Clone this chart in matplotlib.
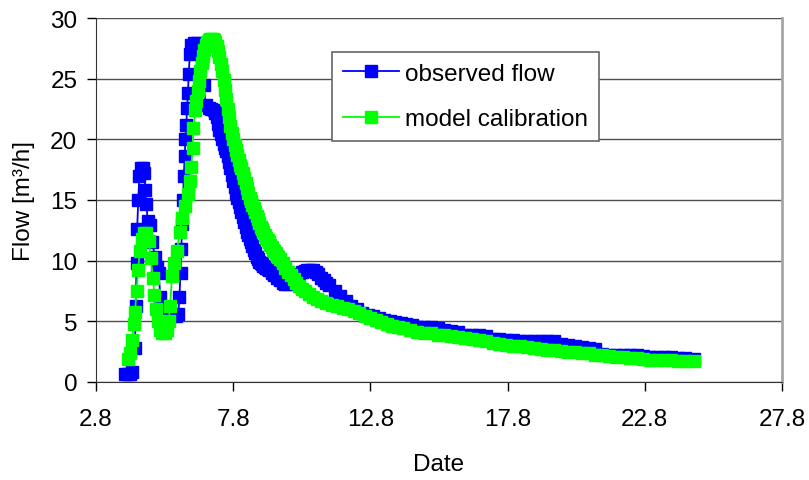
import matplotlib
matplotlib.use("Agg")
import matplotlib.pyplot as plt

plt.rcParams["font.family"] = ["Liberation Sans", "DejaVu Sans"]

# observed flow (blue)
obs_x = [3.85, 3.95, 4.05, 4.12, 4.22, 4.25, 4.28, 4.3, 4.34, 4.38, 4.43, 4.5, 4.56, 4.6,
         4.64, 4.68, 4.75, 4.85, 4.95, 5.02, 5.08, 5.15, 5.25, 5.4, 5.55, 5.7, 5.8, 5.84,
         5.88, 5.91, 5.94, 5.97, 6.0, 6.03, 6.06, 6.09, 6.12, 6.15, 6.18, 6.22, 6.28, 6.38,
         6.48, 6.58, 6.65, 6.72, 6.8, 6.9, 7.0, 7.1,
         7.15, 7.2, 7.25, 7.3, 7.35, 7.4, 7.45, 7.5, 7.55, 7.6, 7.65, 7.7, 7.75, 7.8, 7.85,
         7.9, 7.95, 8.0, 8.05, 8.1, 8.15, 8.2, 8.25, 8.3, 8.35, 8.4, 8.45, 8.5, 8.55, 8.6,
         8.65, 8.7, 8.75, 8.8, 8.85, 8.9, 8.95, 9.0, 9.05, 9.1, 9.2, 9.3, 9.4, 9.5, 9.6,
         9.7, 9.8, 9.9, 10.0, 10.1, 10.2, 10.3, 10.4, 10.5, 10.6, 10.7, 10.8, 10.9, 11.0,
         11.1, 11.2, 11.3, 11.5, 11.7, 11.9, 12.1, 12.3, 12.5, 12.7, 12.9,
         13.1, 13.3, 13.5, 13.7, 13.9, 14.1, 14.3, 14.5, 14.75, 15.0, 15.25, 15.5, 15.75,
         16.0, 16.25, 16.5, 16.75, 17.0, 17.25, 17.5, 17.75, 18.0, 18.25, 18.5, 18.75, 19.0,
         19.25, 19.5, 19.75, 20.0, 20.25, 20.5, 20.75, 21.0, 21.25, 21.5, 21.75, 22.0, 22.25,
         22.5, 22.75, 23.0, 23.25, 23.5, 23.75, 24.0, 24.25, 24.6]
obs_y = [0.7, 0.7, 0.7, 0.8, 2.8, 6.3, 9.8, 12.6, 15.0, 17.0, 17.6, 17.6, 17.2, 15.8,
         14.7, 13.3, 12.9, 11.5, 10.3, 9.5, 9.0, 7.0, 6.0, 5.6, 5.4, 5.4, 5.6, 7.0,
         9.0, 11.0, 13.0, 15.0, 17.0, 18.6, 20.0, 21.2, 22.6, 23.8, 25.4, 27.0, 27.8, 27.9,
         27.9, 27.5, 26.5, 24.5, 22.8, 22.6, 22.5, 22.4,
         22.2, 21.8, 21.3, 20.8, 20.4, 20.0, 19.6, 19.3, 19.0, 18.6, 18.1, 17.6, 17.1, 16.6, 16.1,
         15.6, 15.2, 14.8, 14.4, 14.0, 13.6, 13.2, 12.8, 12.4, 12.1, 11.8, 11.5, 11.2, 10.9, 10.6,
         10.3, 10.1, 9.9, 9.8, 9.7, 9.6, 9.5, 9.4, 9.3, 9.2, 9.0, 8.8, 8.6, 8.4, 8.2,
         8.1, 8.1, 8.3, 8.5, 8.7, 8.9, 9.05, 9.15, 9.2, 9.2, 9.2, 9.1, 8.9, 8.6,
         8.4, 8.2, 8.0, 7.5, 7.1, 6.7, 6.3, 6.0, 5.7, 5.5, 5.4,
         5.3, 5.1, 5.0, 4.95, 4.85, 4.8, 4.7, 4.5, 4.5, 4.5, 4.45, 4.3, 4.2,
         4.15, 3.9, 3.9, 3.85, 3.8, 3.55, 3.55, 3.5, 3.5, 3.4, 3.4, 3.4, 3.4,
         3.35, 3.35, 3.1, 3.05, 3.0, 2.85, 2.8, 2.7, 2.3, 2.25, 2.2, 2.2, 2.2,
         2.2, 2.15, 2.1, 2.05, 2.05, 2.05, 2.0, 1.95, 1.9]

# model calibration (green)
mod_x = [3.97, 4.05, 4.12, 4.17, 4.22, 4.28, 4.33, 4.4, 4.48, 4.56, 4.64, 4.72, 4.8, 4.87,
         4.93, 5.0, 5.07, 5.14, 5.22, 5.3, 5.38, 5.45, 5.5, 5.57, 5.65, 5.75, 5.86, 5.95,
         6.05, 6.15, 6.22, 6.27, 6.32, 6.35, 6.41, 6.45, 6.5, 6.55, 6.6, 6.65, 6.7, 6.75,
         6.8, 6.85, 6.9, 6.95, 7.0,
         7.05, 7.1, 7.15, 7.2, 7.25, 7.3, 7.35, 7.4, 7.45, 7.5, 7.55, 7.6, 7.65, 7.7, 7.75,
         7.8, 7.85, 7.9, 7.95, 8.0, 8.05, 8.1, 8.15, 8.2, 8.25, 8.3, 8.35, 8.4, 8.45, 8.5,
         8.55, 8.6, 8.65, 8.7, 8.75, 8.8, 8.85, 8.9, 8.95, 9.0, 9.05, 9.1, 9.15, 9.2, 9.25,
         9.3, 9.35, 9.4, 9.45, 9.5, 9.6, 9.7, 9.8, 9.9, 10.0, 10.1, 10.2, 10.3, 10.4, 10.55,
         10.7, 10.85, 11.0, 11.2, 11.4, 11.6, 11.8, 12.0, 12.2, 12.4, 12.6, 12.8, 13.0, 13.2,
         13.4, 13.6, 13.8, 14.0, 14.25, 14.5, 14.75, 15.0, 15.25, 15.5, 15.75, 16.0, 16.25,
         16.5, 16.75, 17.0, 17.25, 17.5, 17.75, 18.0, 18.25, 18.5, 18.75, 19.0, 19.25, 19.5,
         19.75, 20.0, 20.25, 20.5, 20.75, 21.0, 21.25, 21.5, 21.75, 22.0, 22.25, 22.5, 22.75,
         23.0, 23.25, 23.5, 23.75, 24.0, 24.25, 24.6]
mod_y = [1.9, 2.4, 3.5, 4.8, 5.8, 7.5, 9.2, 10.8, 11.8, 12.3, 12.3, 11.6, 10.2, 8.6,
         7.2, 6.0, 5.0, 4.3, 4.0, 4.0, 4.3, 5.0, 6.3, 8.7, 9.8, 10.8, 12.4, 13.5,
         14.5, 15.5, 16.6, 17.7, 19.3, 20.9, 22.4, 23.2, 24.0, 24.8, 25.6, 26.3, 26.9, 27.4,
         27.8, 28.0, 28.2, 28.3, 28.3,
         28.3, 28.2, 28.0, 27.7, 27.3, 26.8, 26.2, 25.6, 24.9, 24.1, 23.3, 22.5, 21.8, 21.1, 20.5,
         20.0, 19.5, 19.1, 18.7, 18.3, 17.9, 17.6, 17.2, 16.8, 16.4, 16.0, 15.6, 15.2, 14.9, 14.6,
         14.3, 14.0, 13.7, 13.4, 13.1, 12.8, 12.6, 12.4, 12.1, 11.9, 11.7, 11.5, 11.3, 11.1, 10.9,
         10.8, 10.6, 10.4, 10.3, 10.1, 9.8, 9.4, 9.1, 8.8, 8.5, 8.2, 7.9, 7.7, 7.5, 7.25,
         7.0, 6.85, 6.7, 6.5, 6.35, 6.25, 6.1, 6.0, 5.85, 5.7, 5.45, 5.25, 5.1, 4.95,
         4.8, 4.65, 4.55, 4.45, 4.3, 4.15, 4.05, 4.0, 3.9, 3.85, 3.8, 3.7, 3.65,
         3.55, 3.45, 3.35, 3.25, 3.1, 3.05, 3.0, 2.95, 2.85, 2.8, 2.7, 2.65, 2.6,
         2.55, 2.5, 2.45, 2.4, 2.35, 2.25, 2.2, 2.15, 2.1, 2.05, 2.0, 1.95, 1.9,
         1.85, 1.8, 1.8, 1.8, 1.75, 1.75, 1.7]

x_ticks = [2.8, 7.8, 12.8, 17.8, 22.8, 27.8]
y_ticks = [0, 5, 10, 15, 20, 25, 30]

fig = plt.figure(figsize=(8.09, 4.81), dpi=100)
ax = fig.add_axes([96 / 809, 1 - 383 / 481, 686 / 809, 364 / 481])

ax.plot(obs_x, obs_y, color="#0000ff", lw=1.3, marker="s", ms=9.3,
        mec="#0000ff", mfc="#0000ff", label="observed flow", zorder=3)
ax.plot(mod_x, mod_y, color="#00ff00", lw=1.3, marker="s", ms=9.3,
        mec="#00ff00", mfc="#00ff00", label="model calibration", zorder=4)

ax.set_xlim(2.8, 27.8)
ax.set_ylim(0, 30)
ax.set_xticks(x_ticks)
ax.set_xticklabels([f"{t:.1f}" for t in x_ticks])
ax.set_yticks(y_ticks)
ax.yaxis.grid(True, color="#4d4d4d", lw=1.0)
ax.set_axisbelow(True)
ax.tick_params(direction="out", length=6.5, width=1, labelsize=17.5)
ax.tick_params(axis="x", pad=12)
ax.tick_params(axis="y", pad=7)

ax.spines["top"].set_visible(False)
ax.spines["right"].set_color("#a6a6a6")
ax.spines["right"].set_linewidth(2)
ax.spines["left"].set_color("#333333")
ax.spines["bottom"].set_color("#333333")

ax.set_xlabel("Date", fontsize=17.5, labelpad=17)
ax.set_ylabel("Flow [m³/h]", fontsize=17.5, labelpad=11)

leg = ax.legend(loc="upper left", bbox_to_anchor=(332 / 809, 1 - 53 / 481),
                bbox_transform=fig.transFigure, fontsize=17.5, frameon=True,
                fancybox=False, edgecolor="#666666", framealpha=1,
                handlelength=2.3, handletextpad=0.25, labelspacing=0.95,
                borderpad=0.45, borderaxespad=0)
leg.get_frame().set_linewidth(1.2)
leg.set_zorder(5)

fig.savefig("out.png", dpi=100)
